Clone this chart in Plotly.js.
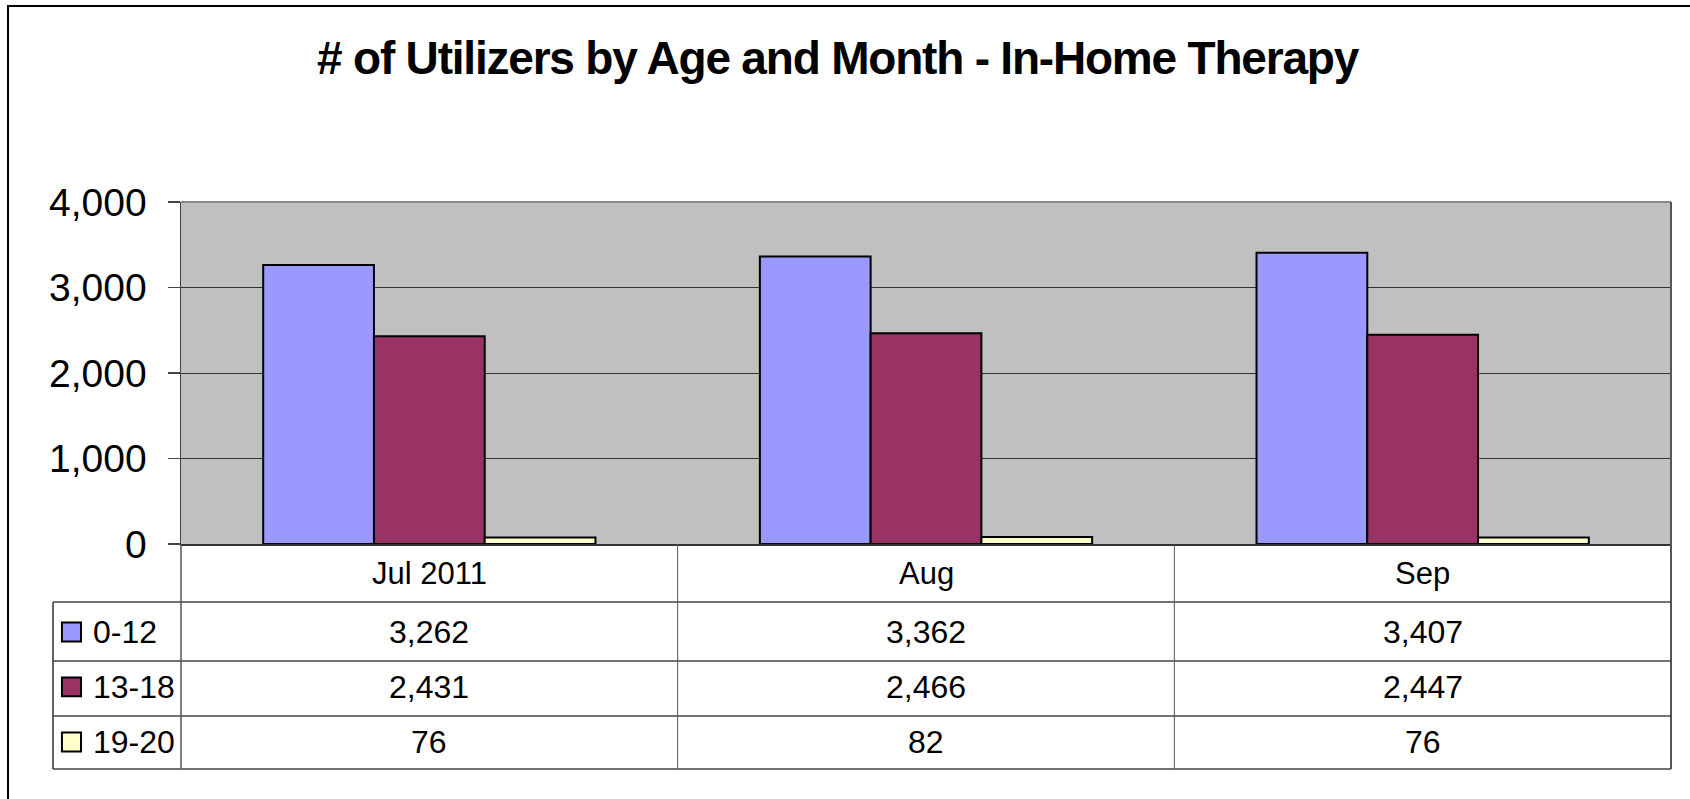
<!DOCTYPE html>
<html>
<head>
<meta charset="utf-8">
<script src="https://cdn.plot.ly/plotly-3.0.1.min.js"></script>
<style>
  html, body { margin: 0; padding: 0; background: #ffffff; }
  #chart { width: 1690px; height: 799px; }
  #chart .gtitle { letter-spacing: -1.2px; }
</style>
</head>
<body>
<div id="chart"></div>
<script>
// ---- data ----
const months = ['Jul 2011', 'Aug', 'Sep'];
const seriesNames = ['0-12', '13-18', '19-20'];
const age0to12 = [3262, 3362, 3407];
const age13to18 = [2431, 2466, 2447];
const age19to20 = [76, 82, 76];
const yTicks = [0, 1000, 2000, 3000, 4000];
const titleText = '# of Utilizers by Age and Month - In-Home Therapy';

// ---- style ----
const seriesColors = ['#9999FF', '#993366', '#FFFFCC'];
const FONT = '"Liberation Sans", Arial, sans-serif';
const allSeries = [age0to12, age13to18, age19to20];

const traces = allSeries.map((vals, i) => ({
  type: 'bar',
  name: seriesNames[i],
  x: months,
  y: vals,
  marker: { color: seriesColors[i], line: { color: '#000000', width: 2 } },
  hoverinfo: 'x+y+name'
}));

// table geometry in paper coords (plot area: 181..1671 px x, 202..544 px y)
const rowLines = [-0.1696, -0.3421, -0.5029, -0.6579];
const headerY = -0.0848;
const rowCenters = [-0.2573, -0.418, -0.579];
const tableLeft = -0.0859;
const tableBottom = rowLines[rowLines.length - 1];

const shapes = [];
const annotations = [];

// outer chart frame
shapes.push({ type: 'rect', xref: 'paper', yref: 'paper', x0: -0.1161, x1: 1.2, y0: -1.2, y1: 1.573,
  line: { color: '#000000', width: 2 }, fillcolor: 'rgba(0,0,0,0)', layer: 'below' });

// plot area top and right border (gray)
shapes.push({ type: 'line', xref: 'paper', yref: 'paper', x0: 0, x1: 1, y0: 1, y1: 1,
  line: { color: '#8a8a8a', width: 2 } });
shapes.push({ type: 'line', xref: 'paper', yref: 'paper', x0: 1, x1: 1, y0: tableBottom, y1: 1,
  line: { color: '#555555', width: 2 } });

// horizontal table lines
rowLines.forEach(y => {
  shapes.push({ type: 'line', xref: 'paper', yref: 'paper', x0: tableLeft, x1: 1, y0: y, y1: y,
    line: { color: '#444444', width: 1.5 } });
});
// vertical table lines
shapes.push({ type: 'line', xref: 'paper', yref: 'paper', x0: 0, x1: 0, y0: tableBottom, y1: 0,
  line: { color: '#555555', width: 1.5 } });
shapes.push({ type: 'line', xref: 'paper', yref: 'paper', x0: tableLeft, x1: tableLeft, y0: tableBottom, y1: rowLines[0],
  line: { color: '#333333', width: 1.5 } });
for (let i = 0; i < months.length - 1; i++) {
  shapes.push({ type: 'line', xref: 'x', yref: 'paper', x0: i + 0.5, x1: i + 0.5, y0: tableBottom, y1: 0,
    line: { color: '#555555', width: 1 } });
}

// header row: month labels
months.forEach((m, i) => {
  annotations.push({ xref: 'x', yref: 'paper', x: i, y: headerY, text: m, showarrow: false,
    xanchor: 'center', yanchor: 'middle', font: { family: FONT, size: 31, color: '#000000' } });
});

// data rows
allSeries.forEach((vals, r) => {
  // legend key
  shapes.push({ type: 'rect', xref: 'paper', yref: 'paper',
    x0: -0.0799, x1: -0.0671, y0: rowCenters[r] - 0.0275, y1: rowCenters[r] + 0.0275,
    fillcolor: seriesColors[r], line: { color: '#000000', width: 2 } });
  annotations.push({ xref: 'paper', yref: 'paper', x: -0.0604, y: rowCenters[r], text: seriesNames[r],
    showarrow: false, xanchor: 'left', yanchor: 'middle', font: { family: FONT, size: 32, color: '#000000' } });
  vals.forEach((v, i) => {
    annotations.push({ xref: 'x', yref: 'paper', x: i, y: rowCenters[r], text: v.toLocaleString('en-US'),
      showarrow: false, xanchor: 'center', yanchor: 'middle', font: { family: FONT, size: 32, color: '#000000' } });
  });
});

const layout = {
  width: 1690,
  height: 799,
  margin: { l: 181, r: 19, t: 202, b: 255, pad: 0 },
  paper_bgcolor: '#ffffff',
  plot_bgcolor: '#C0C0C0',
  showlegend: false,
  barmode: 'group',
  bargap: 0.331,
  bargroupgap: 0,
  font: { family: FONT, color: '#000000' },
  title: {
    text: titleText,
    x: 0.4956, xref: 'container', xanchor: 'center',
    y: 0.927, yref: 'container', yanchor: 'middle',
    font: { family: FONT, size: 46, weight: 'bold', color: '#000000' }
  },
  xaxis: {
    type: 'category',
    range: [-0.5, months.length - 0.5],
    showticklabels: false,
    ticks: '',
    showgrid: false,
    showline: true, linecolor: '#333333', linewidth: 1.5,
    zeroline: false,
    fixedrange: true
  },
  yaxis: {
    range: [0, 4000],
    tickvals: yTicks,
    ticktext: yTicks.map(v => v.toLocaleString('en-US')),
    ticks: 'outside', ticklen: 12, tickcolor: '#444444', tickwidth: 1.5,
    ticklabelstandoff: 13,
    tickfont: { family: FONT, size: 39, color: '#000000' },
    showgrid: true, gridcolor: '#333333', gridwidth: 1,
    showline: true, linecolor: '#444444', linewidth: 1.5,
    zeroline: false,
    fixedrange: true
  },
  shapes: shapes,
  annotations: annotations
};

Plotly.newPlot('chart', traces, layout, { displayModeBar: false, staticPlot: true });
</script>
</body>
</html>
